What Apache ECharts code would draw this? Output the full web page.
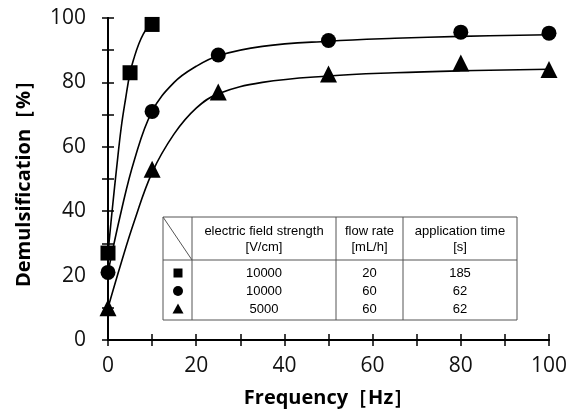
<!DOCTYPE html>
<html>
<head>
<meta charset="utf-8">
<script src="https://cdn.jsdelivr.net/npm/echarts@6/dist/echarts.min.js"></script>
<style>
  html, body { margin: 0; padding: 0; background: #fff; }
  #chart { width: 570px; height: 416px; }
</style>
</head>
<body>
<div id="chart"></div>
<script>
// measured points (frequency [Hz], demulsification [%])
const squareX = [0, 5, 10];
const squareY = [27, 83, 98];
const circleX = [0, 10, 25, 50, 80, 100];
const circleY = [21, 71, 88.5, 93, 95.6, 95.3];
const triangleX = [0, 10, 25, 50, 80, 100];
const triangleY = [10, 53, 77, 82.6, 86, 84];

// fitted curves
const squareFitX = [0, 1, 2, 3, 4, 5, 6, 7, 8, 9, 10];
const squareFitY = [27, 41, 54, 66, 75, 83, 88, 92, 95, 97, 98];
const circleFitX = [0, 3, 6, 10, 15, 20, 25, 35, 50, 65, 80, 100];
const circleFitY = [21, 40, 56, 71, 80, 85, 88.3, 91.2, 92.8, 93.7, 94.3, 94.8];
const triangleFitX = [0, 3, 6, 10, 15, 20, 25, 35, 50, 65, 80, 100];
const triangleFitY = [10, 24, 37, 52, 64, 72, 76.5, 80, 82, 83, 83.6, 84.1];

// table rows
const tableHead = [["electric field strength", "[V/cm]"], ["flow rate", "[mL/h]"], ["application time", "[s]"]];
const fieldStrength = ["10000", "10000", "5000"];
const flowRate = ["20", "60", "60"];
const appTime = ["185", "62", "62"];

const zip = (xs, ys) => xs.map((x, i) => [x, ys[i]]);

let myChart = echarts.init(document.getElementById("chart"));

const axisFont = "'Open Sans', 'Liberation Sans', sans-serif";
const tableFont = "'Liberation Sans', Arial, sans-serif";

// table layout
const tL = 163, tR = 517, tT = 217, tB = 320, tH = 260;
const cols = [tL, 192, 336, 403, tR];
const rowY = [273, 291, 309];
const gfx = [];
gfx.push({ type: "rect", shape: { x: tL, y: tT, width: tR - tL, height: tB - tT },
  style: { fill: "#fff", stroke: "#555", lineWidth: 1 }, z: 100 });
gfx.push({ type: "line", shape: { x1: tL, y1: tH, x2: tR, y2: tH }, style: { stroke: "#555", lineWidth: 1 }, z: 101 });
gfx.push({ type: "line", shape: { x1: tL, y1: tT, x2: cols[1], y2: tH }, style: { stroke: "#555", lineWidth: 1 }, z: 101 });
for (let i = 1; i < 4; i++) {
  gfx.push({ type: "line", shape: { x1: cols[i], y1: tT, x2: cols[i], y2: tB }, style: { stroke: "#555", lineWidth: 1 }, z: 101 });
}
for (let c = 0; c < 3; c++) {
  const cx = (cols[c + 1] + cols[c + 2]) / 2;
  gfx.push({ type: "text", x: cx, y: 231, z: 102,
    style: { text: tableHead[c][0], font: "13px " + tableFont, fill: "#000", align: "center", verticalAlign: "middle" } });
  gfx.push({ type: "text", x: cx, y: 247, z: 102,
    style: { text: tableHead[c][1], font: "13px " + tableFont, fill: "#000", align: "center", verticalAlign: "middle" } });
}
const colVals = [fieldStrength, flowRate, appTime];
for (let r = 0; r < 3; r++) {
  for (let c = 0; c < 3; c++) {
    const cx = (cols[c + 1] + cols[c + 2]) / 2;
    gfx.push({ type: "text", x: cx, y: rowY[r], z: 102,
      style: { text: colVals[c][r], font: "13px " + tableFont, fill: "#000", align: "center", verticalAlign: "middle" } });
  }
}
const iconX = 178;
gfx.push({ type: "rect", shape: { x: iconX - 4.5, y: rowY[0] - 4.5, width: 9, height: 9 }, style: { fill: "#000" }, z: 102 });
gfx.push({ type: "circle", shape: { cx: iconX, cy: rowY[1], r: 5 }, style: { fill: "#000" }, z: 102 });
gfx.push({ type: "polygon", shape: { points: [[iconX, rowY[2] - 5.5], [iconX - 5.5, rowY[2] + 4.5], [iconX + 5.5, rowY[2] + 4.5]] }, style: { fill: "#000" }, z: 102 });

let options = {
  backgroundColor: "#fff",
  animation: false,
  grid: { left: 108, right: 21, top: 18, bottom: 76 },
  xAxis: [
    {
      type: "value", min: 0, max: 100, interval: 10,
      name: "Frequency［Hz］", nameLocation: "middle", nameGap: 48,
      nameTextStyle: { fontFamily: axisFont, fontWeight: "bold", fontSize: 20, color: "#000" },
      axisLine: { show: true, lineStyle: { color: "#000", width: 2 } },
      axisTick: { show: true, inside: true, length: 6, lineStyle: { color: "#000", width: 1.5 } },
      axisLabel: { margin: 16, fontFamily: axisFont, fontSize: 21, color: "#111",
        formatter: (v) => (v % 20 === 0 ? String(v) : "") },
      splitLine: { show: false },
    },
    {
      type: "value", min: 0, max: 100, interval: 10, position: "top",
      axisLine: { show: true, lineStyle: { color: "#000", width: 2 } },
      axisTick: { show: true, inside: true, length: 6, lineStyle: { color: "#000", width: 1.5 } },
      axisLabel: { show: false },
      splitLine: { show: false },
    },
  ],
  yAxis: [
    {
      type: "value", min: 0, max: 100, interval: 10,
      name: "Demulsification［%］", nameLocation: "middle", nameGap: 74,
      nameTextStyle: { fontFamily: axisFont, fontWeight: "bold", fontSize: 20, color: "#000" },
      axisLine: { show: true, lineStyle: { color: "#000", width: 2 } },
      axisTick: { show: true, inside: true, length: 6, lineStyle: { color: "#000", width: 1.5 } },
      axisLabel: { margin: 22, fontFamily: axisFont, fontSize: 21, color: "#111",
        formatter: (v) => (v % 20 === 0 ? String(v) : "") },
      splitLine: { show: false },
    },
    {
      type: "value", min: 0, max: 100, interval: 10, position: "right",
      axisLine: { show: true, lineStyle: { color: "#000", width: 2 } },
      axisTick: { show: true, inside: true, length: 6, lineStyle: { color: "#000", width: 1.5 } },
      axisLabel: { show: false },
      splitLine: { show: false },
    },
  ],
  series: [
    { type: "line", data: zip(squareFitX, squareFitY), smooth: 0.4, showSymbol: false,
      lineStyle: { color: "#000", width: 1.6 }, z: 2 },
    { type: "line", data: zip(circleFitX, circleFitY), smooth: 0.4, showSymbol: false,
      lineStyle: { color: "#000", width: 1.6 }, z: 2 },
    { type: "line", data: zip(triangleFitX, triangleFitY), smooth: 0.4, showSymbol: false,
      lineStyle: { color: "#000", width: 1.6 }, z: 2 },
    { type: "scatter", data: zip(squareX, squareY), symbol: "rect", symbolSize: 15,
      itemStyle: { color: "#000", opacity: 1 }, z: 5 },
    { type: "scatter", data: zip(circleX, circleY), symbol: "circle", symbolSize: 15,
      itemStyle: { color: "#000", opacity: 1 }, z: 5 },
    { type: "scatter", data: zip(triangleX, triangleY), symbol: "triangle", symbolSize: 17,
      itemStyle: { color: "#000", opacity: 1 }, z: 5 },
  ],
  graphic: gfx,
};
myChart.setOption(options);
</script>
</body>
</html>
